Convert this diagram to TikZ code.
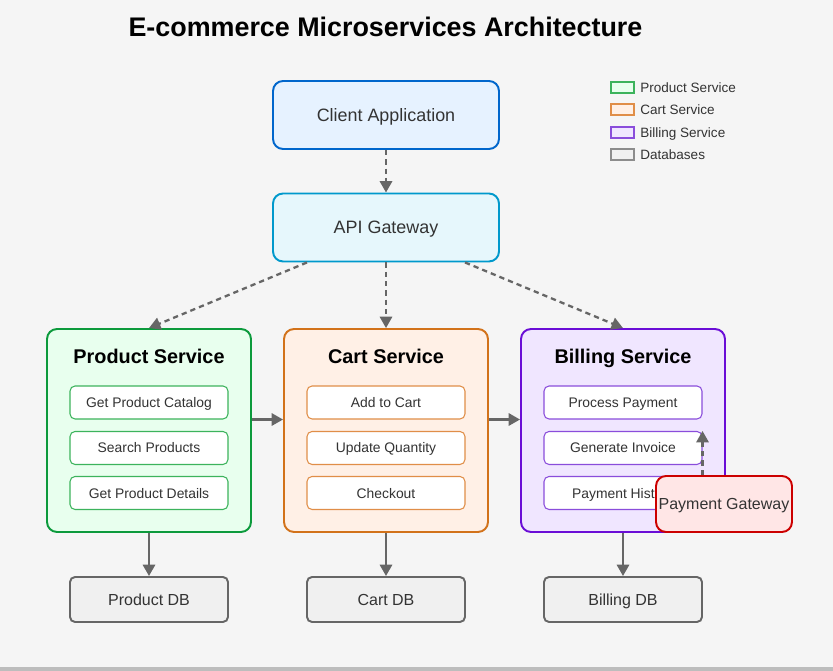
\documentclass[tikz,border=0pt]{standalone}
\usepackage{fontspec}
\setmainfont{Liberation Sans}
\usetikzlibrary{arrows.meta}

\definecolor{bgcol}{HTML}{F5F5F5}
\definecolor{txtcol}{HTML}{333333}
\definecolor{linecol}{HTML}{666666}
\definecolor{clientfill}{HTML}{E6F2FF}
\definecolor{clientline}{HTML}{0066CC}
\definecolor{apifill}{HTML}{E6F7FC}
\definecolor{apiline}{HTML}{0099CC}
\definecolor{prodfill}{HTML}{E8FFEE}
\definecolor{prodline}{HTML}{0C9A3C}
\definecolor{prodop}{HTML}{3CB35C}
\definecolor{cartfill}{HTML}{FFF0E6}
\definecolor{cartline}{HTML}{D2721A}
\definecolor{cartop}{HTML}{E08E48}
\definecolor{billfill}{HTML}{F0E6FF}
\definecolor{billline}{HTML}{6A0DD6}
\definecolor{billop}{HTML}{8A4DDB}
\definecolor{payfill}{HTML}{FFE6E6}
\definecolor{payline}{HTML}{CC0000}
\definecolor{dbfill}{HTML}{F0F0F0}

\tikzset{
	caps/.style={text height=#1, text depth=0pt},
	entry/.style={draw, rounded corners=0.2cm, line width=1.1pt, text=txtcol, inner sep=0pt, caps=7.3pt,
		minimum width=4.52cm, minimum height=1.36cm, font=\fontsize{10.2}{12}\selectfont},
	svc/.style={draw, rounded corners=0.2cm, line width=1.1pt, inner sep=0pt,
		minimum width=4.08cm, minimum height=4.06cm},
	svctitle/.style={font=\fontsize{11.3}{13}\selectfont\bfseries, text=black, caps=8.1pt},
	op/.style={draw, fill=white, rounded corners=0.1cm, line width=0.6pt, inner sep=0pt, text=txtcol, caps=5.7pt,
		minimum width=3.16cm, minimum height=0.66cm, font=\fontsize{7.9}{9}\selectfont},
	store/.style={draw=linecol, fill=dbfill, rounded corners=0.1cm, line width=1.1pt, inner sep=0pt, text=txtcol, caps=6.5pt,
		minimum width=3.16cm, minimum height=0.9cm, font=\fontsize{9.1}{11}\selectfont},
	keybox/.style={draw, line width=0.8pt, minimum width=0.46cm, minimum height=0.22cm, inner sep=0pt},
	keytext/.style={anchor=west, text=txtcol, inner sep=0pt, caps=5.5pt, font=\fontsize{7.7}{9}\selectfont},
	flow/.style={draw=linecol, line width=1.3pt, -{Triangle[length=6.5pt,width=7pt]}},
	call/.style={flow, dash pattern=on 3pt off 2.3pt}
}

\begin{document}
\begin{tikzpicture}[x=0.02cm, y=-0.02cm]
			%%%%% START %%%%%
			
			\fill[bgcol] (0, 0) rectangle (833, 671);
			\useasboundingbox (0, 0) rectangle (833, 671);
			\fill[black!26] (0, 667) rectangle (833, 671);
			
			\node[font=\fontsize{15.3}{18}\selectfont\bfseries, caps=11pt] (title) at (385.5, 26.5) {E-commerce Microservices Architecture};
			
			\node[entry, fill=clientfill, draw=clientline] (client) at (386, 115) {Client Application};
			\node[entry, fill=apifill, draw=apiline] (api) at (386, 227.5) {API Gateway};
			
			% legend
			\node[keybox, fill=prodfill, draw=prodop] (kprod) at (622.5, 87.5) {};
			\node[keybox, fill=cartfill, draw=cartop] (kcart) at (622.5, 109.5) {};
			\node[keybox, fill=billfill, draw=billop] (kbill) at (622.5, 132.5) {};
			\node[keybox, fill=dbfill, draw=black!45] (kdb) at (622.5, 154.5) {};
			\node[keytext] (tprod) at (640, 88) {Product Service};
			\node[keytext] (tcart) at (640, 110) {Cart Service};
			\node[keytext] (tbill) at (640, 133) {Billing Service};
			\node[keytext] (tdb) at (640, 155) {Databases};
			
			% product service
			\node[svc, fill=prodfill, draw=prodline] (prod) at (149, 430.5) {};
			\node[svctitle] (prodtitle) at (149, 356) {Product Service};
			\node[op, draw=prodop] (pcat) at (149, 402.5) {Get Product Catalog};
			\node[op, draw=prodop] (psearch) at (149, 448) {Search Products};
			\node[op, draw=prodop] (pdet) at (149, 493) {Get Product Details};
			
			% cart service
			\node[svc, fill=cartfill, draw=cartline] (cart) at (386, 430.5) {};
			\node[svctitle] (carttitle) at (386, 356) {Cart Service};
			\node[op, draw=cartop] (cadd) at (386, 402.5) {Add to Cart};
			\node[op, draw=cartop] (cqty) at (386, 448) {Update Quantity};
			\node[op, draw=cartop] (cout) at (386, 493) {Checkout};
			
			% billing service
			\node[svc, fill=billfill, draw=billline] (bill) at (623, 430.5) {};
			\node[svctitle] (billtitle) at (623, 356) {Billing Service};
			\node[op, draw=billop] (bpay) at (623, 402.5) {Process Payment};
			\node[op, draw=billop] (binv) at (623, 448) {Generate Invoice};
			\node[op, draw=billop] (bhist) at (623, 493) {Payment History};
			
			\node[entry, fill=payfill, draw=payline, minimum width=2.72cm, minimum height=1.12cm,
				font=\fontsize{9.1}{11}\selectfont, caps=6.5pt] (paygw) at (724, 504) {Payment Gateway};
			
			% databases
			\node[store] (proddb) at (149, 599.5) {Product DB};
			\node[store] (cartdb) at (386, 599.5) {Cart DB};
			\node[store] (billdb) at (623, 599.5) {Billing DB};
			
			% connectors
			\draw[call] (client.south) -- (api.north);
			\draw[call] ([xshift=-1.58cm]api.south) -- (prod.north);
			\draw[call] (api.south) -- (cart.north);
			\draw[call] ([xshift=1.58cm]api.south) -- (bill.north);
			
			\draw[flow] (prod.east |- pcat.south) -- (cart.west |- pcat.south);
			\draw[flow] (cart.east |- cadd.south) -- (bill.west |- cadd.south);
			
			\draw[flow] (prod.south) -- (proddb.north);
			\draw[flow] (cart.south) -- (cartdb.north);
			\draw[flow] (bill.south) -- (billdb.north);
			
			\draw[call] (paygw.north -| binv.east) -- (binv.north east);
			
			%%%%% END %%%%%
\end{tikzpicture}
\end{document}
